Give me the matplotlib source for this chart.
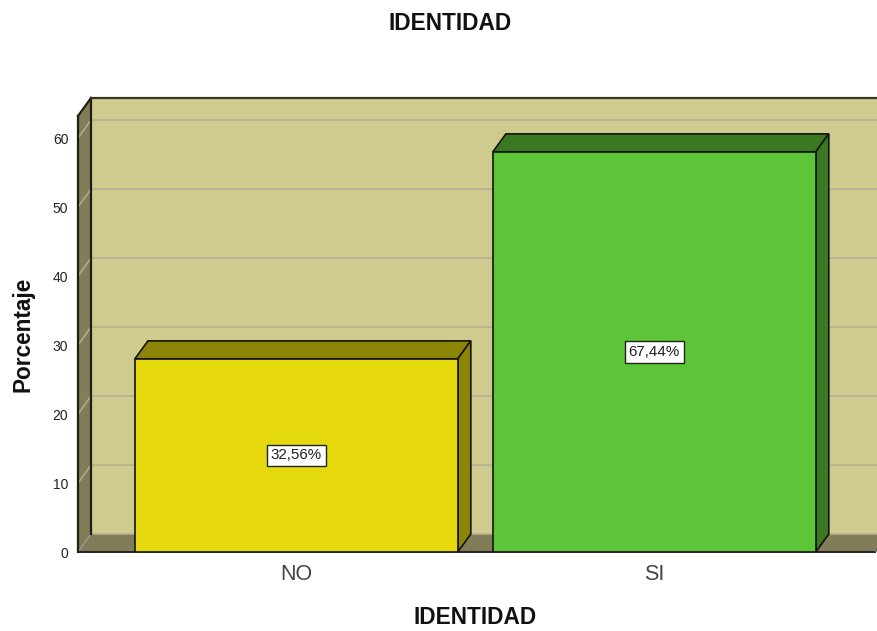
import matplotlib
matplotlib.use("Agg")
import matplotlib.pyplot as plt
from matplotlib.patches import Polygon

plt.rcParams['font.family'] = ['Liberation Sans', 'DejaVu Sans']

# data
categories = ["NO", "SI"]
heights = [28.0, 58.0]
labels = ["32,56%", "67,44%"]
front_colors = ["#E5D90E", "#5DC538"]
side_colors = ["#8C8508", "#3A7822"]
yticks = [0, 10, 20, 30, 40, 50, 60]

# look of the fake 3d box
dx = 13 / 358
dy = 2.6
bar_w = 0.902
xmin, xmax = -0.61, 1.622
xend = 1.617
ymax = 65.8
wall = "#CFCA8E"
wall_dark = "#817D58"
grid_col = "#B2AF96"

fig = plt.figure(figsize=(8.77, 6.31), dpi=100)
ax = fig.add_axes([78 / 877, 1 - 552 / 631, 1 - 78 / 877, (552 - 98) / 631])
ax.set_xlim(xmin, xmax)
ax.set_ylim(0, ymax)
for s in ax.spines.values():
    s.set_visible(False)

# back wall
ax.add_patch(Polygon([(xmin + dx, dy), (xmax + dx, dy), (xmax + dx, ymax), (xmin + dx, ymax)],
                     facecolor=wall, edgecolor="none", zorder=1))
# left wall
ax.add_patch(Polygon([(xmin, 0), (xmin + dx, dy), (xmin + dx, ymax), (xmin, ymax - dy)],
                     facecolor=wall_dark, edgecolor="none", zorder=1))
# floor
ax.add_patch(Polygon([(xmin, 0), (xend, 0), (xend + dx, dy), (xmin + dx, dy)],
                     facecolor=wall_dark, edgecolor="none", zorder=1))

# grid lines, across the left wall then the back wall
for t in yticks[1:]:
    ax.plot([xmin, xmin + dx, xmax + dx], [t, t + dy, t + dy], color=grid_col, lw=1.1, zorder=2)
ax.plot([xmin, xmin + dx], [0, dy], color="#9A9A90", lw=1, zorder=2)
ax.plot([xmin + dx, xmax + dx], [dy, dy], color=grid_col, lw=1.1, zorder=2)

# wall outlines
edge = "#1E1E14"
ax.plot([xmin, xmin], [0, ymax - dy], color=edge, lw=1.6, zorder=3, clip_on=False)
ax.plot([xmin, xmin + dx], [ymax - dy, ymax], color=edge, lw=1.6, zorder=3, clip_on=False)
ax.plot([xmin + dx, xmin + dx], [dy, ymax], color=edge, lw=1.6, zorder=3, clip_on=False)
ax.plot([xmin + dx, xmax], [ymax, ymax], color="#35352A", lw=1.6, zorder=3, clip_on=False)
ax.plot([xmin, xend], [0, 0], color="#222222", lw=1.4, zorder=3, clip_on=False)
ax.plot([xend, xend + dx], [0, dy], color="#555555", lw=1, zorder=3)

# bars
for i, h in enumerate(heights):
    x0 = i - bar_w / 2
    x1 = i + bar_w / 2
    ax.add_patch(Polygon([(x0, h), (x1, h), (x1 + dx, h + dy), (x0 + dx, h + dy)],
                         facecolor=side_colors[i], edgecolor="#14140A", lw=1.2, zorder=4))
    ax.add_patch(Polygon([(x1, 0), (x1 + dx, dy), (x1 + dx, h + dy), (x1, h)],
                         facecolor=side_colors[i], edgecolor="#14140A", lw=1.2, zorder=4))
    ax.bar(i, h, width=bar_w, color=front_colors[i], edgecolor="#14140A", lw=1.2, zorder=5)
    ax.text(i, h / 2, labels[i], ha="center", va="center", fontsize=10.9, color="#222222", zorder=6,
            bbox=dict(boxstyle="square,pad=0.25", facecolor="white", edgecolor="#222222", lw=1))

ax.set_xticks([0, 1])
ax.set_xticklabels(categories, fontsize=15.5, color="#444444")
ax.set_yticks(yticks)
ax.set_yticklabels([str(t) for t in yticks], fontsize=10, color="#222222")
ax.tick_params(axis="x", length=0, pad=9)
ax.tick_params(axis="y", length=0, pad=7)

fig.text(450.5 / 877, 1 - 23 / 631, "IDENTIDAD", ha="center", va="center", fontsize=16.3, fontweight="bold", color="#111111")
fig.text(475.5 / 877, 1 - 618 / 631, "IDENTIDAD", ha="center", va="center", fontsize=16.3, fontweight="bold", color="#111111")
fig.text(23 / 877, 1 - 334 / 631, "Porcentaje", ha="center", va="center", rotation=90, fontsize=16.3, fontweight="bold", color="#111111")

fig.savefig("out.png", dpi=100)
